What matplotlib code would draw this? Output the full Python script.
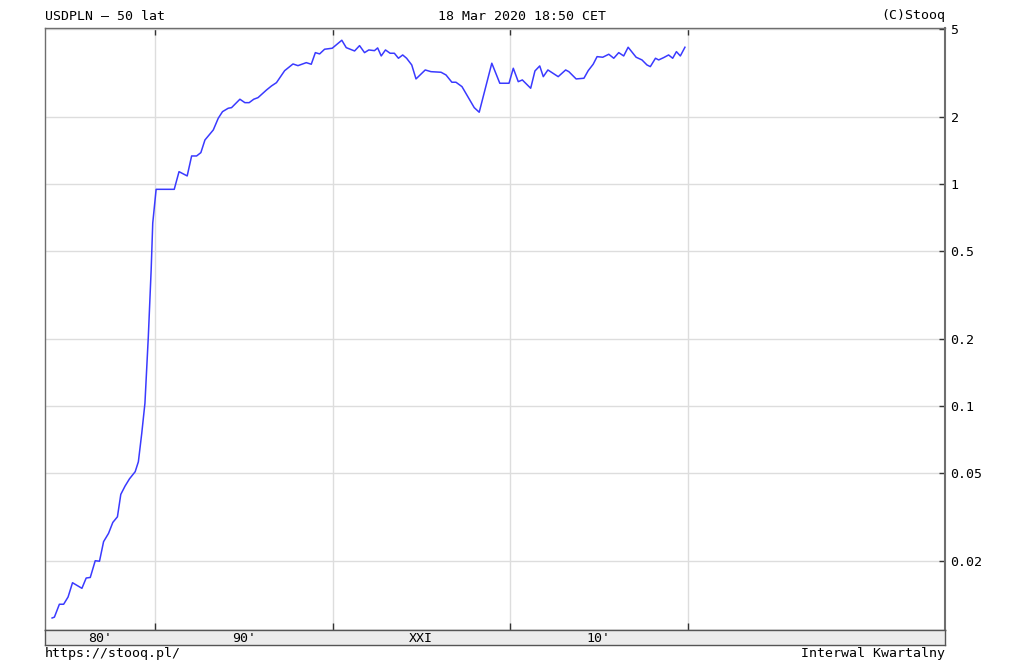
"""
USDPLN 50 lat — wykres kwartalny w stylu Stooq (skala logarytmiczna).
"""

import matplotlib

matplotlib.use("Agg")
import matplotlib.pyplot as plt
from matplotlib.ticker import FixedLocator, NullLocator

# dane (rok dziesiętny, kurs)
years = [
    1984.20, 1984.33, 1984.61, 1984.85, 1985.10, 1985.35, 1985.88, 1986.12,
    1986.35, 1986.63, 1986.87, 1987.10, 1987.38, 1987.62, 1987.88, 1988.07,
    1988.31, 1988.56, 1988.88, 1989.06, 1989.25, 1989.43, 1989.62, 1989.78,
    1989.87, 1990.06, 1991.08, 1991.35, 1991.81, 1992.06, 1992.34, 1992.58,
    1992.81, 1993.28, 1993.56, 1993.80, 1994.12, 1994.31, 1994.78, 1995.06,
    1995.30, 1995.56, 1995.80, 1996.28, 1996.56, 1996.84, 1997.30, 1997.77,
    1998.05, 1998.52, 1998.80, 1999.03, 1999.27, 1999.55, 1999.98, 2000.52,
    2000.77, 2001.24, 2001.52, 2001.80, 2002.04, 2002.36, 2002.54, 2002.74,
    2002.98, 2003.24, 2003.48, 2003.71, 2003.95, 2004.17, 2004.46, 2004.70,
    2005.22, 2005.54, 2006.11, 2006.39, 2006.72, 2006.95, 2007.29, 2007.98,
    2008.26, 2008.97, 2009.42, 2009.94, 2010.18, 2010.46, 2010.69, 2011.16,
    2011.40, 2011.67, 2011.87, 2012.13, 2012.71, 2013.13, 2013.31, 2013.72,
    2014.16, 2014.40, 2014.68, 2014.90, 2015.22, 2015.56, 2015.84, 2016.12,
    2016.40, 2016.65, 2017.10, 2017.43, 2017.71, 2017.90, 2018.19, 2018.37,
    2018.65, 2018.93, 2019.16, 2019.37, 2019.59, 2019.85,
]
rates = [
    0.0111, 0.0112, 0.0128, 0.0128, 0.0138, 0.0160, 0.0151, 0.0168,
    0.0169, 0.0201, 0.0200, 0.0245, 0.0267, 0.0299, 0.0317, 0.0400,
    0.0436, 0.0470, 0.0506, 0.0561, 0.0753, 0.103, 0.205, 0.410,
    0.667, 0.946, 0.946, 1.136, 1.087, 1.337, 1.337, 1.384,
    1.578, 1.751, 1.977, 2.117, 2.193, 2.207, 2.408, 2.324,
    2.324, 2.408, 2.448, 2.651, 2.764, 2.860, 3.238, 3.471,
    3.411, 3.519, 3.461, 3.904, 3.852, 4.044, 4.086, 4.439,
    4.111, 3.972, 4.198, 3.904, 4.014, 3.985, 4.099, 3.772,
    4.014, 3.879, 3.879, 3.683, 3.811, 3.683, 3.436, 2.972,
    3.262, 3.205, 3.185, 3.097, 2.872, 2.872, 2.744, 2.207,
    2.104, 3.498, 2.842, 2.842, 3.320, 2.889, 2.941, 2.698,
    3.228, 3.401, 3.043, 3.262, 3.043, 3.262, 3.205, 2.972,
    2.993, 3.238, 3.461, 3.745, 3.722, 3.839, 3.683, 3.904,
    3.772, 4.128, 3.722, 3.619, 3.436, 3.377, 3.683, 3.619,
    3.707, 3.811, 3.683, 3.944, 3.772, 4.128,
]

y_ticks = [0.02, 0.05, 0.1, 0.2, 0.5, 1, 2, 5]
y_tick_labels = ["0.02", "0.05", "0.1", "0.2", "0.5", "1", "2", "5"]
decade_lines = [1990, 2000, 2010, 2020]
decade_labels = ["80'", "90'", "XXI", "10'"]

X_MIN, X_MAX = 1983.8, 2034.5
Y_MIN, Y_MAX = 0.0098, 5.04

FONT = "DejaVu Sans Mono"
FS = 9.5
LINE_BLUE = "#3a3aff"
GRID = "#dddddd"
FRAME = "#6e6e6e"

W, H = 1024, 670
fig = plt.figure(figsize=(W / 100, H / 100), dpi=100)
fig.patch.set_facecolor("white")

L, R, T, B = 45, 945, 28, 630
ax = fig.add_axes([L / W, 1 - B / H, (R - L) / W, (B - T) / H])
ax.plot(years, rates, color=LINE_BLUE, linewidth=1.1)
ax.set_yscale("log")
ax.set_xlim(X_MIN, X_MAX)
ax.set_ylim(Y_MIN, Y_MAX)

ax.yaxis.set_major_locator(FixedLocator(y_ticks))
ax.yaxis.set_minor_locator(NullLocator())
ax.set_yticklabels(y_tick_labels, family=FONT, fontsize=FS)
ax.yaxis.tick_right()
ax.tick_params(axis="y", direction="in", length=4, width=1, color="#333333", pad=4)

ax.xaxis.set_major_locator(FixedLocator(decade_lines))
ax.xaxis.set_minor_locator(NullLocator())
ax.set_xticklabels([])
ax.tick_params(axis="x", direction="in", length=5, width=1, color="#333333",
               top=True, bottom=True)

ax.grid(True, color=GRID, linewidth=1)
ax.set_axisbelow(True)
for name, spine in ax.spines.items():
    spine.set_color(FRAME)
    spine.set_linewidth(1.5 if name == "right" else 1.0)

# pasek z etykietami dekad
band = fig.add_axes([L / W, 1 - 645 / H, (R - L) / W, 15 / H])
band.set_facecolor("#ececec")
band.set_xlim(X_MIN, X_MAX)
band.set_ylim(0, 1)
band.set_xticks([])
band.set_yticks([])
for spine in band.spines.values():
    spine.set_color("#555555")
    spine.set_linewidth(1.0)
edges = [X_MIN] + decade_lines
for i, lab in enumerate(decade_labels):
    mid = (edges[i] + edges[i + 1]) / 2
    band.text(mid, 0.45, lab, ha="center", va="center", family=FONT, fontsize=FS)

# nagłówek i stopka
fig.text(L / W, 1 - 16 / H, "USDPLN – 50 lat", ha="left", va="center",
         family=FONT, fontsize=FS)
fig.text(522 / W, 1 - 16 / H, "18 Mar 2020 18:50 CET", ha="center", va="center",
         family=FONT, fontsize=FS)
fig.text(R / W, 1 - 16 / H, "(C)Stooq", ha="right", va="center",
         family=FONT, fontsize=FS)
fig.text(L / W, 1 - 654 / H, "https://stooq.pl/", ha="left", va="center",
         family=FONT, fontsize=FS)
fig.text(R / W, 1 - 654 / H, "Interwal Kwartalny", ha="right", va="center",
         family=FONT, fontsize=FS)

fig.savefig("out.png", dpi=100, facecolor=fig.get_facecolor())
plt.close(fig)
